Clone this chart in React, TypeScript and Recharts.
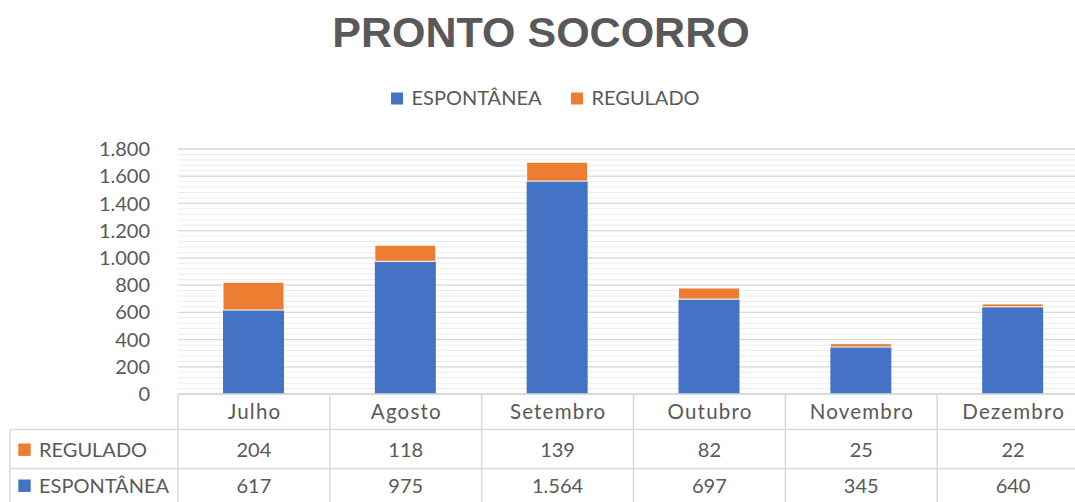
import React from 'react';
import { BarChart, Bar, XAxis, YAxis, CartesianGrid, Legend } from 'recharts';

const months = ['Julho', 'Agosto', 'Setembro', 'Outubro', 'Novembro', 'Dezembro'];
const espontanea = [617, 975, 1564, 697, 345, 640];
const regulado = [204, 118, 139, 82, 25, 22];
const yTicks = [0, 200, 400, 600, 800, 1000, 1200, 1400, 1600, 1800];
const minorTicks = Array.from({ length: 46 }, (_, i) => i * 40);

const SERIES_ESP = 'ESPONTÂNEA';
const SERIES_REG = 'REGULADO';
const BLUE = '#4472C4';
const ORANGE = '#ED7D31';
const TEXT = '#595959';
const BORDER = '#D9D9D9';

const CHART_W = 1090;
const CHART_H = 502;
const Y_W = 178;
const M_RIGHT = 1;
const PLOT_W = CHART_W - Y_W - M_RIGHT;

const data = months.map((m, i) => ({ month: m, [SERIES_ESP]: espontanea[i], [SERIES_REG]: regulado[i] }));

const fmt = (n: number) => String(n).replace(/\B(?=(\d{3})+(?!\d))/g, '.');

const minorGen = (props: any) => {
  const ax = props && props.yAxis;
  const s = ax && ax.scale;
  if (typeof s === 'function') return minorTicks.map((v) => s(v));
  if (s && typeof s.map === 'function') return minorTicks.map((v) => s.map(v));
  return [];
};

const TableTick = (props: any) => {
  const { x, y, payload } = props;
  const i = months.indexOf(payload.value);
  const bw = PLOT_W / months.length;
  const left = x - bw / 2;
  const right = x + bw / 2;
  const y0 = y;
  const r1 = y0 + 35.5;
  const r2 = y0 + 74.5;
  const bottom = y0 + 110;
  return (
    <g>
      <line x1={right} x2={right} y1={y0} y2={bottom} stroke={BORDER} strokeWidth={1.5} />
      <line x1={left} x2={right} y1={r1} y2={r1} stroke={BORDER} strokeWidth={1.5} />
      <line x1={left} x2={right} y1={r2} y2={r2} stroke={BORDER} strokeWidth={1.5} />
      {i === 0 && (
        <g>
          <line x1={left} x2={left} y1={y0} y2={bottom} stroke={BORDER} strokeWidth={1.5} />
          <line x1={10} x2={10} y1={r1} y2={bottom} stroke={BORDER} strokeWidth={1.5} />
          <line x1={10} x2={left} y1={r1} y2={r1} stroke={BORDER} strokeWidth={1.5} />
          <line x1={10} x2={left} y1={r2} y2={r2} stroke={BORDER} strokeWidth={1.5} />
          <rect x={18.3} y={y0 + 49.5} width={12.4} height={12.4} fill={ORANGE} />
          <text x={39} y={y0 + 63} fill={TEXT} fontSize={20}>{SERIES_REG}</text>
          <rect x={18.3} y={y0 + 85.5} width={12.4} height={12.4} fill={BLUE} />
          <text x={39} y={y0 + 98.5} fill={TEXT} fontSize={20}>{SERIES_ESP}</text>
        </g>
      )}
      <text x={x + 0.6} y={y0 + 24.7} textAnchor="middle" fill={TEXT} fontSize={20.5} letterSpacing={1.2}>{payload.value}</text>
      <text x={x} y={y0 + 63} textAnchor="middle" fill={TEXT} fontSize={20}>{fmt(regulado[i])}</text>
      <text x={x} y={y0 + 98.5} textAnchor="middle" fill={TEXT} fontSize={20}>{fmt(espontanea[i])}</text>
    </g>
  );
};

const legendOrder = [SERIES_ESP, SERIES_REG];

const renderLegend = (props: any) => {
  const payload = props.payload || [];
  const items = legendOrder.map((name) => payload.find((p: any) => p.value === name || p.dataKey === name)).filter(Boolean);
  const xs = [0, 180];
  return (
    <svg width={330} height={30} style={{ display: 'block', overflow: 'visible' }}>
      {items.map((it: any, k: number) => (
        <g key={it.value}>
          <rect x={xs[k]} y={8.5} width={12} height={12} fill={it.color} />
          <text x={xs[k] + 20.5} y={20.7} fill={TEXT} fontSize={20} fontFamily="Lato">{it.value}</text>
        </g>
      ))}
    </svg>
  );
};

export default function App() {
  return (
    <div style={{ position: 'absolute', left: 0, top: 0, width: 1075, height: 502, overflow: 'hidden', background: '#fff', fontFamily: 'Lato' }}>
      <BarChart width={CHART_W} height={CHART_H} data={data} margin={{ top: 149, right: M_RIGHT, left: 0, bottom: 0 }} barSize={61}>
        <CartesianGrid vertical={false} stroke="#ECECEC" strokeWidth={1} horizontalCoordinatesGenerator={minorGen} syncWithTicks={false} />
        <CartesianGrid vertical={false} stroke={BORDER} strokeWidth={1.3} />
        <YAxis
          width={Y_W}
          domain={[0, 1800]}
          ticks={yTicks}
          interval={0}
          axisLine={false}
          tickLine={false}
          tickSize={0}
          tickMargin={28}
          tickFormatter={fmt}
          tick={{ fill: TEXT, fontSize: 20 }}
        />
        <XAxis
          dataKey="month"
          height={108}
          axisLine={{ stroke: BORDER, strokeWidth: 1.5 }}
          tickLine={false}
          tickSize={0}
          tickMargin={0}
          interval={0}
          tick={<TableTick />}
        />
        <Legend layout="horizontal" verticalAlign="middle" align="center" wrapperStyle={{ top: 84, left: 391, width: 330, height: 30 }} content={renderLegend} />
        <Bar dataKey={SERIES_ESP} stackId="a" fill={BLUE} isAnimationActive={false} />
        <Bar dataKey={SERIES_REG} stackId="a" fill={ORANGE} stroke="#fff" strokeWidth={1} isAnimationActive={false} />
      </BarChart>
      <svg width={1075} height={70} style={{ position: 'absolute', left: 0, top: 0, pointerEvents: 'none' }}>
        <text x={541} y={47} textAnchor="middle" fill={TEXT} fontSize={43} fontWeight="bold" fontFamily="Liberation Sans, Arial, sans-serif">PRONTO SOCORRO</text>
      </svg>
    </div>
  );
}
